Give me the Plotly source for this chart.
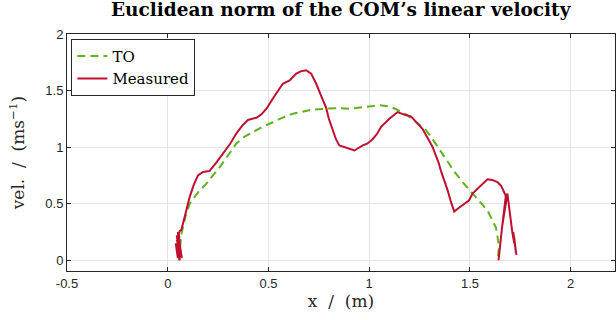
import plotly.graph_objects as go

# TO (reference trajectory)
to_x = [0.055, 0.06, 0.068, 0.09, 0.109, 0.15, 0.192, 0.258, 0.30, 0.340, 0.38, 0.423, 0.47, 0.522,
        0.57, 0.621, 0.712, 0.786, 0.85, 0.902, 0.95, 1.0, 1.05, 1.10, 1.141, 1.19, 1.232, 1.282,
        1.315, 1.348, 1.389, 1.42, 1.464, 1.53, 1.587, 1.629, 1.645, 1.637]
to_y = [0.0, 0.1, 0.235, 0.40, 0.50, 0.60, 0.677, 0.823, 0.93, 1.03, 1.09, 1.13, 1.18, 1.22,
        1.26, 1.295, 1.33, 1.34, 1.345, 1.34, 1.35, 1.36, 1.37, 1.36, 1.33, 1.28, 1.22, 1.15,
        1.07, 0.98, 0.88, 0.79, 0.69, 0.56, 0.44, 0.29, 0.12, 0.0]

# Measured
meas_x = [0.05, 0.04, 0.06, 0.045, 0.065, 0.05, 0.07, 0.045, 0.06, 0.05, 0.065, 0.055, 0.06,
          0.068, 0.085, 0.109, 0.13, 0.150,
          0.175, 0.208, 0.24, 0.274, 0.31, 0.340, 0.37, 0.398, 0.44, 0.465, 0.49, 0.522, 0.55, 0.571,
          0.605, 0.62, 0.638, 0.66, 0.687, 0.712, 0.737, 0.76, 0.786, 0.80, 0.819, 0.835, 0.852,
          0.886, 0.91, 0.927, 0.945, 0.968, 0.99, 1.017, 1.04, 1.059, 1.10, 1.141, 1.17, 1.208,
          1.24, 1.265, 1.29, 1.315, 1.33, 1.345, 1.356, 1.37, 1.389, 1.405, 1.422, 1.439, 1.47, 1.496,
          1.513, 1.55, 1.587, 1.61, 1.637, 1.654, 1.67, 1.678, 1.66, 1.642, 1.66, 1.686, 1.695,
          1.71, 1.72, 1.715, 1.728, 1.72, 1.73, 1.725, 1.732]
meas_y = [0.02, 0.15, 0.0, 0.22, 0.05, 0.25, 0.02, 0.18, 0.08, 0.22, 0.03, 0.24, 0.26,
          0.27, 0.40, 0.56, 0.67, 0.75,
          0.78, 0.79, 0.86, 0.94, 1.03, 1.12, 1.19, 1.24, 1.26, 1.29, 1.34, 1.43, 1.50, 1.56,
          1.59, 1.62, 1.65, 1.67, 1.68, 1.65, 1.56, 1.46, 1.35, 1.25, 1.15, 1.07, 1.015,
          0.995, 0.985, 0.97, 0.99, 1.015, 1.03, 1.07, 1.12, 1.18, 1.25, 1.31, 1.29, 1.27,
          1.21, 1.16, 1.08, 1.0, 0.93, 0.86, 0.79, 0.72, 0.62, 0.52, 0.43, 0.455, 0.50, 0.53,
          0.59, 0.65, 0.715, 0.71, 0.69, 0.66, 0.60, 0.57, 0.3, 0.0, 0.3, 0.59, 0.45,
          0.25, 0.15, 0.25, 0.07, 0.2, 0.05, 0.15, 0.06]

x_ticks = [-0.5, 0, 0.5, 1, 1.5, 2]
x_tick_labels = ["-0.5", "0", "0.5", "1", "1.5", "2"]
y_ticks = [0, 0.5, 1, 1.5, 2]
y_tick_labels = ["0", "0.5", "1", "1.5", "2"]

GREEN = "#5fb21f"
RED = "#c0102f"
SERIF = "DejaVu Serif, serif"
SANS = "Liberation Sans, Arial, sans-serif"

fig = go.Figure()
fig.add_trace(go.Scatter(x=to_x, y=to_y, mode="lines", name="TO",
                         line=dict(color=GREEN, width=2, dash="8px,5px")))
fig.add_trace(go.Scatter(x=meas_x, y=meas_y, mode="lines", name="Measured",
                         line=dict(color=RED, width=2)))

axis_common = dict(showgrid=True, gridcolor="#e3e3e3", gridwidth=1, zeroline=False,
                   showline=True, linecolor="#262626", linewidth=1, mirror="allticks",
                   ticks="inside", ticklen=4, tickcolor="#262626",
                   tickfont=dict(family=SANS, size=13, color="#262626"))

fig.update_layout(
    width=616, height=320,
    margin=dict(l=67, r=1, t=34, b=49),
    paper_bgcolor="white", plot_bgcolor="white",
    title=dict(text="<b>Euclidean norm of the COM’s linear velocity</b>",
               font=dict(family=SERIF, size=18.5, color="#000000"),
               x=0.553, xanchor="center", y=0.99, yanchor="top"),
    xaxis=dict(range=[-0.5, 2.22], tickvals=x_ticks, ticktext=x_tick_labels,
               title=dict(text="x  /  (m)", font=dict(family=SERIF, size=17, color="#262626"),
                          standoff=4),
               **axis_common),
    yaxis=dict(range=[-0.095, 2], tickvals=y_ticks, ticktext=y_tick_labels,
               title=dict(text="vel.  /  (ms<sup>−1</sup>)",
                          font=dict(family=SERIF, size=17, color="#262626"), standoff=16),
               **axis_common),
    legend=dict(x=0.008, y=0.98, xanchor="left", yanchor="top",
                bgcolor="white", bordercolor="#262626", borderwidth=1,
                font=dict(family=SERIF, size=15, color="#000000"),
                tracegroupgap=0, itemwidth=30),
    showlegend=True,
)

fig.write_html("out.html")
